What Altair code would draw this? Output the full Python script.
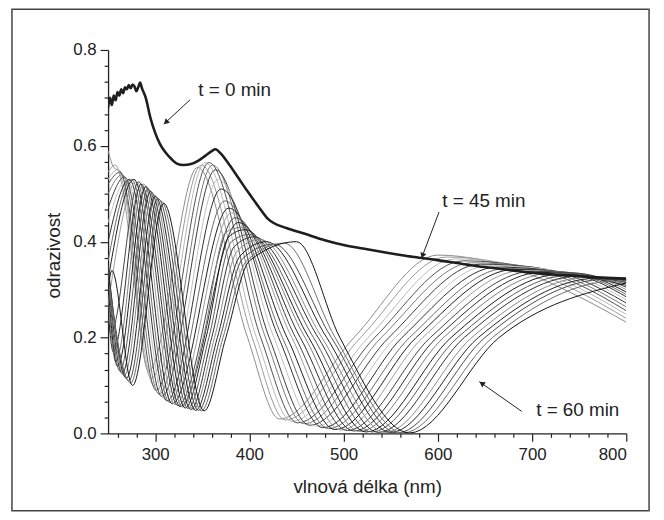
import altair as alt
import pandas as pd

FONT = "Liberation Sans"

# ---- thick curve, t = 0 min ----
t0_wl = [250, 252, 254, 256, 258, 260, 262, 264, 266, 268, 270, 272, 274, 276, 278, 280, 282, 284, 286,
         290, 295, 300, 305, 311, 317, 323, 330, 338, 346, 353, 360, 364, 370, 377, 388, 398, 409, 420,
         440, 458, 480, 500, 525, 549, 575, 598, 625, 650, 675, 700, 725, 750, 775, 800]
t0_R = [0.68, 0.70, 0.685, 0.705, 0.695, 0.712, 0.705, 0.718, 0.71, 0.722, 0.718, 0.727, 0.72, 0.728,
        0.724, 0.714, 0.722, 0.732, 0.72, 0.70, 0.658, 0.627, 0.604, 0.586, 0.573, 0.563, 0.560, 0.562,
        0.569, 0.579, 0.589, 0.593, 0.583, 0.565, 0.534, 0.505, 0.475, 0.447, 0.428, 0.417, 0.403, 0.393,
        0.384, 0.376, 0.368, 0.362, 0.354, 0.347, 0.341, 0.335, 0.331, 0.328, 0.325, 0.323]

# ---- thin curves (key points), earliest -> t = 60 min ----
c00_wl = [250, 256, 264, 293, 345, 398, 432, 511, 600, 700, 750, 800]
c00_R = [0.59, 0.555, 0.545, 0.13, 0.555, 0.2, 0.03, 0.2, 0.372, 0.33, 0.285, 0.232]
c01_wl = [250, 257.5, 296, 349, 403, 438, 518, 609, 700, 750, 800]
c01_R = [0.545, 0.56, 0.115, 0.56, 0.2, 0.028, 0.2, 0.368, 0.338, 0.295, 0.24]
c02_wl = [250, 260, 298.5, 353, 407.5, 445, 526, 618, 700, 750, 800]
c02_R = [0.53, 0.55, 0.10, 0.565, 0.2, 0.025, 0.2, 0.364, 0.342, 0.303, 0.248]
c03_wl = [250, 262.5, 301, 357, 412, 451, 533, 627, 700, 750, 800]
c03_R = [0.52, 0.545, 0.09, 0.565, 0.2, 0.022, 0.2, 0.36, 0.345, 0.31, 0.256]
c04_wl = [250, 265, 304, 361, 417, 458, 540, 636, 700, 750, 800]
c04_R = [0.50, 0.54, 0.082, 0.56, 0.2, 0.02, 0.2, 0.356, 0.347, 0.316, 0.264]
c05_wl = [250, 267.5, 307, 364, 421, 464, 548, 645, 700, 750, 800]
c05_R = [0.47, 0.535, 0.077, 0.55, 0.2, 0.017, 0.2, 0.353, 0.347, 0.322, 0.272]
c06_wl = [250, 270, 310, 367, 426, 471, 555, 654, 700, 750, 800]
c06_R = [0.44, 0.53, 0.072, 0.53, 0.2, 0.015, 0.2, 0.35, 0.346, 0.326, 0.279]
c07_wl = [250, 272.5, 312.5, 370, 431, 478, 562, 663, 750, 800]
c07_R = [0.40, 0.53, 0.068, 0.51, 0.2, 0.012, 0.2, 0.347, 0.329, 0.285]
c08_wl = [250, 275, 315, 374, 435, 484, 570, 672, 750, 800]
c08_R = [0.36, 0.53, 0.065, 0.485, 0.2, 0.01, 0.2, 0.344, 0.331, 0.29]
c09_wl = [250, 277.5, 318, 378, 440, 491, 577, 681, 750, 800]
c09_R = [0.32, 0.53, 0.062, 0.47, 0.2, 0.008, 0.2, 0.342, 0.333, 0.295]
c10_wl = [250, 280, 321, 381, 445, 497, 584, 690, 750, 800]
c10_R = [0.27, 0.525, 0.06, 0.46, 0.2, 0.007, 0.2, 0.34, 0.334, 0.30]
c11_wl = [250, 253, 282.5, 324, 385, 449, 504, 592, 700, 750, 800]
c11_R = [0.24, 0.21, 0.525, 0.058, 0.45, 0.2, 0.006, 0.2, 0.338, 0.334, 0.305]
c12_wl = [250, 255.5, 285, 326.5, 388, 454, 511, 599, 710, 800]
c12_R = [0.26, 0.17, 0.52, 0.056, 0.44, 0.2, 0.005, 0.2, 0.336, 0.309]
c13_wl = [250, 258, 287.5, 329, 351, 375, 392, 459, 517, 606, 720, 800]
c13_R = [0.29, 0.15, 0.52, 0.055, 0.2, 0.42, 0.43, 0.2, 0.004, 0.2, 0.334, 0.312]
c14_wl = [250, 260, 290, 332, 354, 378, 395, 463, 524, 614, 730, 800]
c14_R = [0.31, 0.14, 0.515, 0.053, 0.2, 0.41, 0.425, 0.2, 0.003, 0.2, 0.332, 0.315]
c15_wl = [250, 262.5, 292.5, 335, 357, 381, 400, 468, 530, 621, 740, 800]
c15_R = [0.33, 0.13, 0.51, 0.052, 0.2, 0.40, 0.415, 0.2, 0.003, 0.2, 0.33, 0.318]
c16_wl = [250, 265, 295, 338, 360, 384, 405, 473, 537, 628, 750, 800]
c16_R = [0.34, 0.125, 0.505, 0.05, 0.2, 0.39, 0.41, 0.2, 0.002, 0.2, 0.328, 0.32]
c17_wl = [250, 267, 297.5, 340.5, 363, 387, 411, 477, 544, 636, 760, 800]
c17_R = [0.35, 0.12, 0.50, 0.05, 0.2, 0.38, 0.405, 0.2, 0.002, 0.2, 0.326, 0.321]
c18_wl = [250, 269.5, 300, 343, 366, 390, 418, 482, 550, 643, 770, 800]
c18_R = [0.35, 0.115, 0.495, 0.048, 0.2, 0.37, 0.40, 0.2, 0.002, 0.2, 0.324, 0.321]
c19_wl = [250, 272, 303, 346, 369, 393, 426, 487, 557, 650, 780, 800]
c19_R = [0.34, 0.11, 0.49, 0.048, 0.2, 0.365, 0.395, 0.2, 0.001, 0.2, 0.322, 0.32]
c20_wl = [250, 274, 306, 349, 372, 397, 437, 491, 563, 658, 790, 800]
c20_R = [0.32, 0.105, 0.485, 0.047, 0.2, 0.36, 0.397, 0.2, 0.001, 0.2, 0.318, 0.317]
c21_wl = [250, 254, 276, 309, 352, 375, 400, 450, 496, 570, 665, 800]
c21_R = [0.30, 0.34, 0.10, 0.48, 0.047, 0.2, 0.36, 0.40, 0.2, 0.001, 0.2, 0.314]

thin_curves = [(c00_wl, c00_R), (c01_wl, c01_R), (c02_wl, c02_R), (c03_wl, c03_R), (c04_wl, c04_R),
               (c05_wl, c05_R), (c06_wl, c06_R), (c07_wl, c07_R), (c08_wl, c08_R), (c09_wl, c09_R),
               (c10_wl, c10_R), (c11_wl, c11_R), (c12_wl, c12_R), (c13_wl, c13_R), (c14_wl, c14_R),
               (c15_wl, c15_R), (c16_wl, c16_R), (c17_wl, c17_R), (c18_wl, c18_R), (c19_wl, c19_R),
               (c20_wl, c20_R), (c21_wl, c21_R)]
thin_colors = ["#8c8c8c", "#9a9a9a", "#b8b8b8", "#505050", "#7a7a7a", "#3c3c3c", "#c0c0c0", "#2e2e2e",
               "#6a6a6a", "#1e1e1e", "#9c9c9c", "#444444", "#2a2a2a", "#7c7c7c", "#1a1a1a", "#5a5a5a",
               "#303030", "#8a8a8a", "#222222", "#4a4a4a", "#6e6e6e", "#141414"]

# ---- axes ----
x_major = [300, 400, 500, 600, 700, 800]
x_minor = [260, 280, 320, 340, 360, 380, 420, 440, 460, 480, 520, 540, 560, 580,
           620, 640, 660, 680, 720, 740, 760, 780]
y_major = [0.0, 0.2, 0.4, 0.6, 0.8]
y_minor = [k / 30 for k in range(1, 24) if k % 6 != 0]

# ---- annotations ----
ann_text = ["t = 0 min", "t = 45 min", "t = 60 min"]
ann_text_wl = [345.8, 604.7, 704.4]
ann_text_R = [0.717, 0.485, 0.048]
arrow_wl0 = [337, 601.3, 689]
arrow_R0 = [0.696, 0.462, 0.046]
arrow_wl1 = [309, 582.6, 644]
arrow_R1 = [0.645, 0.365, 0.108]
head_wl = [311.3, 583.7, 646.6]
head_R = [0.649, 0.371, 0.1045]
head_angle = [226.8, 200.8, 305]

# ---- build tables ----
names = [f"c{k:02d}" for k in range(len(thin_curves))]
rows = []
for name, (xs, ys) in zip(names, thin_curves):
    for xv, yv in zip(xs, ys):
        rows.append({"wl": xv, "R": yv, "curve": name})
thin_df = pd.DataFrame(rows)
thick_df = pd.DataFrame({"wl": t0_wl, "R": t0_R})
text_df = pd.DataFrame({"wl": ann_text_wl, "R": ann_text_R, "label": ann_text})
arrow_df = pd.DataFrame({"wl0": arrow_wl0, "R0": arrow_R0, "wl1": arrow_wl1, "R1": arrow_R1})
head_df = pd.DataFrame({"wl": head_wl, "R": head_R, "ang": head_angle})

X_SCALE = alt.Scale(domain=[250, 800], nice=False, zero=False)
Y_SCALE = alt.Scale(domain=[0, 0.8], nice=False, zero=False)

AX = dict(labelFont=FONT, labelFontSize=17, labelColor="#222222",
          titleFont=FONT, titleFontSize=19, titleFontWeight="normal", titleColor="#222222",
          domainColor="#222222", tickColor="#222222", domainWidth=1.3, tickWidth=1.2, grid=False)

thin_layer = alt.Chart(thin_df).mark_line(interpolate="monotone", strokeWidth=1, clip=True).encode(
    x=alt.X("wl:Q", scale=X_SCALE,
            axis=alt.Axis(values=x_major, title="vlnová délka (nm)", orient="bottom", tickSize=8,
                          labelPadding=5, titlePadding=16, format="d", **AX)),
    y=alt.Y("R:Q", scale=Y_SCALE,
            axis=alt.Axis(values=y_major, title="odrazivost", orient="left", tickSize=8,
                          labelPadding=4, format=".1f", titleX=-45.5, titleY=207, **AX)),
    color=alt.Color("curve:N", scale=alt.Scale(domain=names, range=thin_colors), legend=None),
    detail="curve:N",
)

thick_layer = alt.Chart(thick_df).mark_line(interpolate="monotone", strokeWidth=2.6, color="#1e1e1e",
                                            clip=True).encode(
    x=alt.X("wl:Q", scale=X_SCALE, axis=None),
    y=alt.Y("R:Q", scale=Y_SCALE, axis=None),
)

minor_layer = alt.Chart(thick_df).mark_point(opacity=0).encode(
    x=alt.X("wl:Q", scale=X_SCALE,
            axis=alt.Axis(values=x_minor, orient="bottom", tickSize=4, labels=False, domain=False,
                          title=None, **AX)),
    y=alt.Y("R:Q", scale=Y_SCALE,
            axis=alt.Axis(values=y_minor, orient="left", tickSize=4, labels=False, domain=False,
                          title=None, **AX)),
)

arrow_layer = alt.Chart(arrow_df).mark_rule(strokeWidth=1, color="#222222").encode(
    x=alt.X("wl0:Q", scale=X_SCALE, axis=None),
    y=alt.Y("R0:Q", scale=Y_SCALE, axis=None),
    x2="wl1:Q",
    y2="R1:Q",
)

head_layer = alt.Chart(head_df).mark_point(shape="triangle-up", filled=True, size=40, color="#222222",
                                           opacity=1).encode(
    x=alt.X("wl:Q", scale=X_SCALE, axis=None),
    y=alt.Y("R:Q", scale=Y_SCALE, axis=None),
    angle=alt.Angle("ang:Q", scale=None),
)

text_layer = alt.Chart(text_df).mark_text(align="left", baseline="middle", fontSize=19, font=FONT,
                                          color="#222222").encode(
    x=alt.X("wl:Q", scale=X_SCALE, axis=None),
    y=alt.Y("R:Q", scale=Y_SCALE, axis=None),
    text="label:N",
)

border_layer = alt.Chart(pd.DataFrame({"a": [0]})).mark_rect(
    filled=False, color="#444444", strokeWidth=1.5
).encode(
    x=alt.value(-97), x2=alt.value(546), y=alt.value(-41), y2=alt.value(465)
)

chart = alt.layer(
    thin_layer, thick_layer, minor_layer, arrow_layer, head_layer, text_layer, border_layer
).resolve_axis(x="independent", y="independent").properties(
    width=523, height=387,
    autosize=alt.AutoSizeParams(type="none"),
    padding={"left": 101, "top": 40, "right": 30, "bottom": 80},
    background="white",
).configure_axis(**AX).configure_view(stroke=None)

chart.save("out.html", embed_options={"renderer": "svg", "actions": False})
